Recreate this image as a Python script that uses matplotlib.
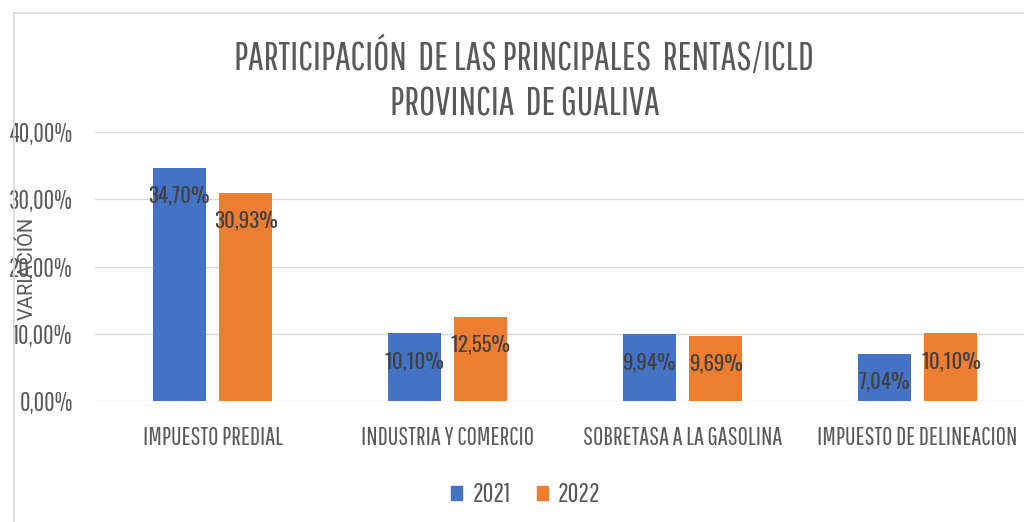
import matplotlib
matplotlib.use('Agg')
import matplotlib.pyplot as plt
import numpy as np
from matplotlib.patches import Rectangle, Patch
from matplotlib.ticker import FuncFormatter

##########
#  Data  #
##########

categorias = ['IMPUESTO PREDIAL', 'INDUSTRIA Y COMERCIO',
              'SOBRETASA A LA GASOLINA', 'IMPUESTO DE DELINEACION']
v2021 = [34.70, 10.10, 9.94, 7.04]
v2022 = [30.93, 12.55, 9.69, 10.10]
lab2021 = ['34,70%', '10,10%', '9,94%', '7,04%']
lab2022 = ['30,93%', '12,55%', '9,69%', '10,10%']
yticks = [0, 10, 20, 30, 40]

##########
#  Plot  #
##########

narrow = ['Pathway Gothic One', 'DejaVu Sans']
plt.rcParams['font.family'] = narrow

gris = '#595959'
azul = '#4472C4'
naranja = '#ED7D31'

fig = plt.figure(figsize=(10.24, 5.22), dpi=100)
ax = fig.add_axes([95/1024, 1-401/522, 1-95/1024, (401-132)/522])

x = np.arange(len(categorias))
w = 0.225
off = 0.142
b1 = ax.bar(x-off, v2021, w, color=azul, zorder=3)
b2 = ax.bar(x+off, v2022, w, color=naranja, zorder=3)

for bars, labs in ((b1, lab2021), (b2, lab2022)):
    for b, l in zip(bars, labs):
        ax.annotate(l, (b.get_x()+b.get_width()/2, b.get_height()),
                    xytext=(0, -20), textcoords='offset points',
                    ha='center', va='center', fontsize=15,
                    color='#404040', zorder=4,
                    family=['Oswald', 'DejaVu Sans'])

ax.set_xlim(-0.5, 3.453)
ax.set_ylim(0, 40)
ax.set_yticks(yticks)
ax.yaxis.set_major_formatter(FuncFormatter(lambda v, p: '%d,00%%' % v))
ax.set_xticks(x)
ax.set_xticklabels(categorias)
ax.tick_params(axis='y', length=0, pad=16, labelsize=18.5, labelcolor=gris)
ax.tick_params(axis='x', length=0, pad=18, labelsize=18, labelcolor=gris)
ax.grid(axis='y', color='#d9d9d9', linewidth=1, zorder=0)
for s in ax.spines.values():
    s.set_visible(False)

fig.text(27/1024, 1-268/522, 'VARIACIÓN', rotation=90, ha='center',
         va='center', fontsize=14.5, color=gris, family=['Roboto', 'DejaVu Sans'])

fig.text(524/1024, 1-57/522, 'PARTICIPACIÓN  DE LAS PRINCIPALES  RENTAS/ICLD',
         ha='center', va='center', fontsize=28, color=gris)
fig.text(525/1024, 1-105/522, 'PROVINCIA  DE GUALIVA',
         ha='center', va='center', fontsize=28, color=gris)

fig.legend(handles=[Patch(color=azul, label='2021'), Patch(color=naranja, label='2022')],
           loc='center', bbox_to_anchor=(526/1024, 1-495/522), ncol=2,
           frameon=False, fontsize=19, labelcolor=gris, handlelength=0.4,
           handleheight=0.4, handletextpad=0.4, columnspacing=1.0)

fig.patches.append(Rectangle((14/1024, -0.1), 1.1, 1.1-13/522, fill=False,
                             edgecolor='#d9d9d9', linewidth=1.2,
                             transform=fig.transFigure, figure=fig))

plt.savefig('out.png', dpi=100)
